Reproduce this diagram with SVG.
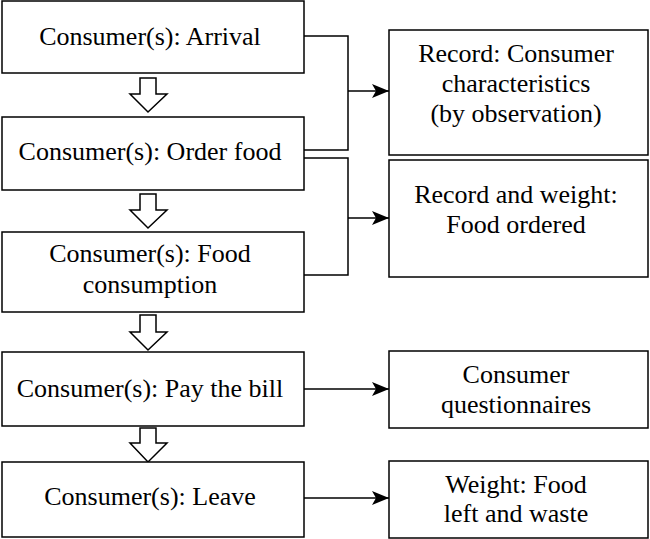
<svg xmlns="http://www.w3.org/2000/svg" width="650" height="539" viewBox="0 0 650 539">
<style>
.box{fill:#fff;stroke:#000;stroke-width:1.5}
.blk{fill:#fff;stroke:#000;stroke-width:1.5;stroke-linejoin:miter}
.ln{fill:none;stroke:#000;stroke-width:1.5}
</style>
<defs>
<marker id="ah" markerWidth="18" markerHeight="16" refX="17" refY="8" orient="auto" markerUnits="userSpaceOnUse">
<path d="M17,8 L0,1 L4,8 L0,15 Z" fill="#000"/>
</marker>
</defs>
<rect width="650" height="539" fill="#fff"/>
<g id="connectors">
<polyline class="ln" points="304,36 348,36 348,150 304,150"/>
<line class="ln" x1="348" y1="91" x2="389" y2="91" marker-end="url(#ah)"/>
<polyline class="ln" points="304,158 348,158 348,275 304,275"/>
<line class="ln" x1="348" y1="218" x2="389" y2="218" marker-end="url(#ah)"/>
<line class="ln" x1="304" y1="389" x2="389" y2="389" marker-end="url(#ah)"/>
<line class="ln" x1="304" y1="498" x2="389" y2="498" marker-end="url(#ah)"/>
<polygon class="blk" points="140,78 156,78 156,94 167,94 148,112 130,94 140,94"/>
<polygon class="blk" points="140,194 156,194 156,210 167,210 148,228 130,210 140,210"/>
<polygon class="blk" points="140,315 156,315 156,332 167,332 148,350 130,332 140,332"/>
<polygon class="blk" points="140,428 156,428 156,443 167,443 148,462 130,443 140,443"/>
</g>
<g font-family="'Liberation Serif', 'Times New Roman', Times, Tinos, 'Noto Serif', 'DejaVu Serif', FreeSerif, 'Nimbus Roman', serif" font-size="26" text-anchor="middle" fill="#000">
<g id="arrival">
<rect class="box" x="2" y="1" width="302" height="72"/>
<text x="150" y="45">Consumer(s): Arrival</text>
</g>
<g id="order">
<rect class="box" x="2" y="117" width="302" height="73"/>
<text x="150" y="160">Consumer(s): Order food</text>
</g>
<g id="consumption">
<rect class="box" x="2" y="232" width="302" height="80"/>
<text x="150" y="262">Consumer(s): Food</text>
<text x="150" y="293">consumption</text>
</g>
<g id="pay">
<rect class="box" x="2" y="352" width="302" height="74"/>
<text x="150" y="397">Consumer(s): Pay the bill</text>
</g>
<g id="leave">
<rect class="box" x="2" y="462" width="302" height="75"/>
<text x="150" y="505">Consumer(s): Leave</text>
</g>
<g id="record">
<rect class="box" x="389" y="30" width="259" height="125"/>
<text x="516" y="62">Record: Consumer</text>
<text x="516" y="92">characteristics</text>
<text x="516" y="122">(by observation)</text>
</g>
<g id="weightfood">
<rect class="box" x="389" y="160" width="259" height="117"/>
<text x="516" y="203">Record and weight:</text>
<text x="516" y="233">Food ordered</text>
</g>
<g id="questionnaires">
<rect class="box" x="389" y="351" width="259" height="77"/>
<text x="516" y="383">Consumer</text>
<text x="516" y="413">questionnaires</text>
</g>
<g id="waste">
<rect class="box" x="389" y="461" width="259" height="77"/>
<text x="516" y="493">Weight: Food</text>
<text x="516" y="522">left and waste</text>
</g>
</g>
</svg>
